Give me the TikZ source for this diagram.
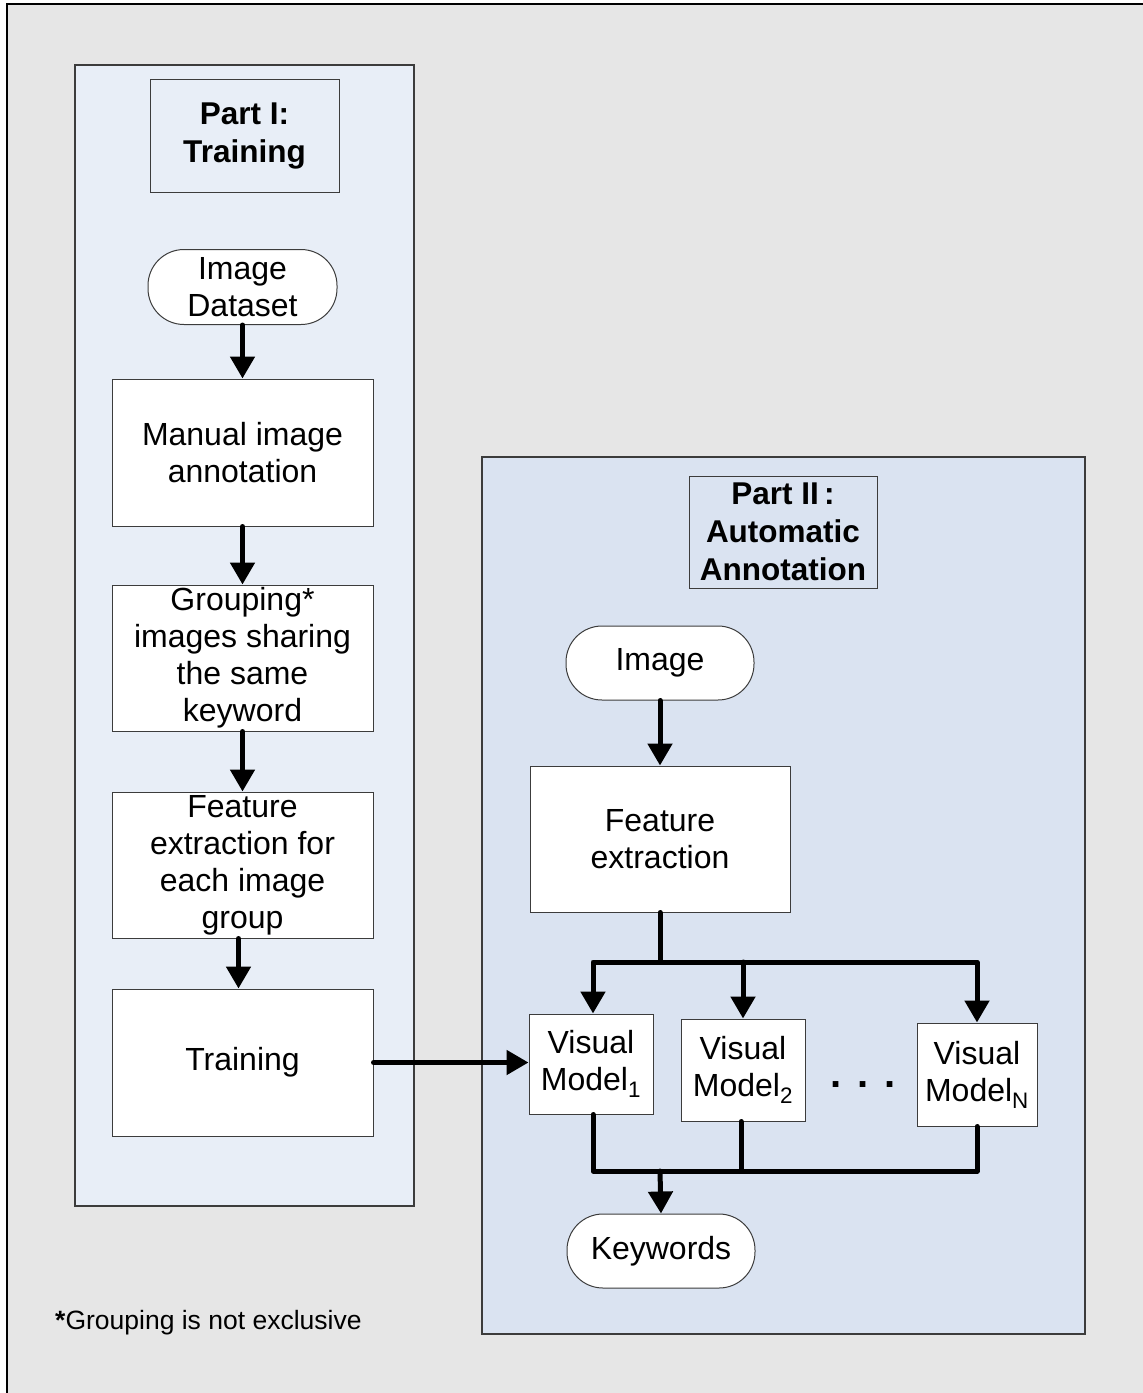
\documentclass[tikz,border=0pt]{standalone}
\usepackage{fontspec}
\setmainfont{Liberation Sans}
\usetikzlibrary{arrows.meta}

\definecolor{pagegray}{RGB}{230,230,230}
\definecolor{trainfill}{RGB}{232,238,247}
\definecolor{annotfill}{RGB}{218,227,241}
\definecolor{edge}{RGB}{60,60,60}

\tikzset{
  box/.style={draw=edge, line width=1pt, fill=white, align=center, inner sep=0pt,
              font=\fontsize{32}{37}\selectfont},
  titlebox/.style={draw=edge, line width=1pt, align=center, inner sep=0pt,
              font=\fontsize{31.5}{38}\selectfont\bfseries},
  terminal/.style={box, rounded corners=36pt},
  link/.style={line width=5pt, line cap=round, line join=round},
  flow/.style={link, -{Triangle[width=24pt,length=22pt]}},
  panel/.style={draw=edge, line width=1.2pt},
}

\begin{document}
\begin{tikzpicture}[x=1pt,y=-1pt]
\useasboundingbox (0,0) rectangle (1143,1393);
\fill[white] (0,0) rectangle (1143,1393);
\draw[fill=pagegray, line width=2pt, draw=black] (7,4) rectangle (1160,1410);

% ---- Part I panel ----
\draw[panel, fill=trainfill] (75,65) rectangle (414,1206);
\node[titlebox, minimum width=189pt, minimum height=113pt] (t1) at (244.5,135.5)
  {Part I:\\Training};
\node[terminal, minimum width=189pt, minimum height=75pt] (ds) at (242.5,287)
  {Image\\Dataset};
\node[box, minimum width=261pt, minimum height=147pt] (man) at (242.5,452.5)
  {Manual image\\annotation};
\node[box, minimum width=261pt, minimum height=146pt] (grp) at (242.5,658)
  {Grouping*\\images sharing\\the same\\keyword};
\node[box, minimum width=261pt, minimum height=146pt] (fe1) at (242.5,865)
  {Feature\\extraction for\\each image\\group};
\node[box, minimum width=261pt, minimum height=147pt] (tr) at (242.5,1062.5)
  {Training};

\draw[flow] (ds.south) -- (man.north);
\draw[flow] (man.south) -- (grp.north);
\draw[flow] (grp.south) -- (fe1.north);
\draw[flow] ([xshift=-4pt]fe1.south) -- ([xshift=-4pt]tr.north);

% ---- Part II panel ----
\draw[panel, fill=annotfill] (482,457) rectangle (1085,1334);
\node[titlebox, minimum width=188pt, minimum height=112pt] (t2) at (783,532)
  {Part II\,:\\Automatic\\Annotation};
\node[terminal, minimum width=188pt, minimum height=74pt] (img) at (660,663)
  {Image};
\node[box, minimum width=260pt, minimum height=146pt] (fe2) at (660,839)
  {Feature\\extraction};
\node[box, minimum width=124pt, minimum height=100pt] (vm1) at (591,1064)
  {Visual\\Model\textsubscript{1}};
\node[box, minimum width=124pt, minimum height=102pt] (vm2) at (743,1070)
  {Visual\\Model\textsubscript{2}};
\node[box, minimum width=120pt, minimum height=103pt] (vmn) at (977,1074.5)
  {Visual\\Model\textsubscript{N}};
\node[font=\fontsize{40}{40}\selectfont\bfseries, inner sep=0pt] (dots) at (863,1085)
  {.\hspace{16pt}.\hspace{16pt}.};
\node[terminal, minimum width=188pt, minimum height=74pt] (kw) at (661,1251)
  {Keywords};

\draw[flow] (img.south) -- (fe2.north);

% fan-out from feature extraction to the visual models
\coordinate (bus) at (660,962);
\draw[link] (fe2.south) -- (bus);
\draw[flow] (bus) -| ([xshift=2pt]vm1.north);
\draw[flow] (bus) -| (vmn.north);
\draw[flow] (vm2.north |- bus) -- (vm2.north);

% fan-in from the visual models to the keywords
\coordinate (join) at (660,1171);
\draw[link] ([xshift=2pt]vm1.south) |- (join) -| (vmn.south);
\draw[link] ([xshift=-2pt]vm2.south) -- ([xshift=-2pt]vm2.south |- join);
\draw[flow] (join) -- (kw.north);

% trained models feed the annotation stage
\draw[flow] (tr.east) -- (tr.east -| vm1.west);

% footnote
\node[anchor=west, inner sep=0pt, font=\fontsize{26.5}{30}\selectfont] (note) at (55,1323)
  {\textbf{*}Grouping is not exclusive};
\end{tikzpicture}
\end{document}
